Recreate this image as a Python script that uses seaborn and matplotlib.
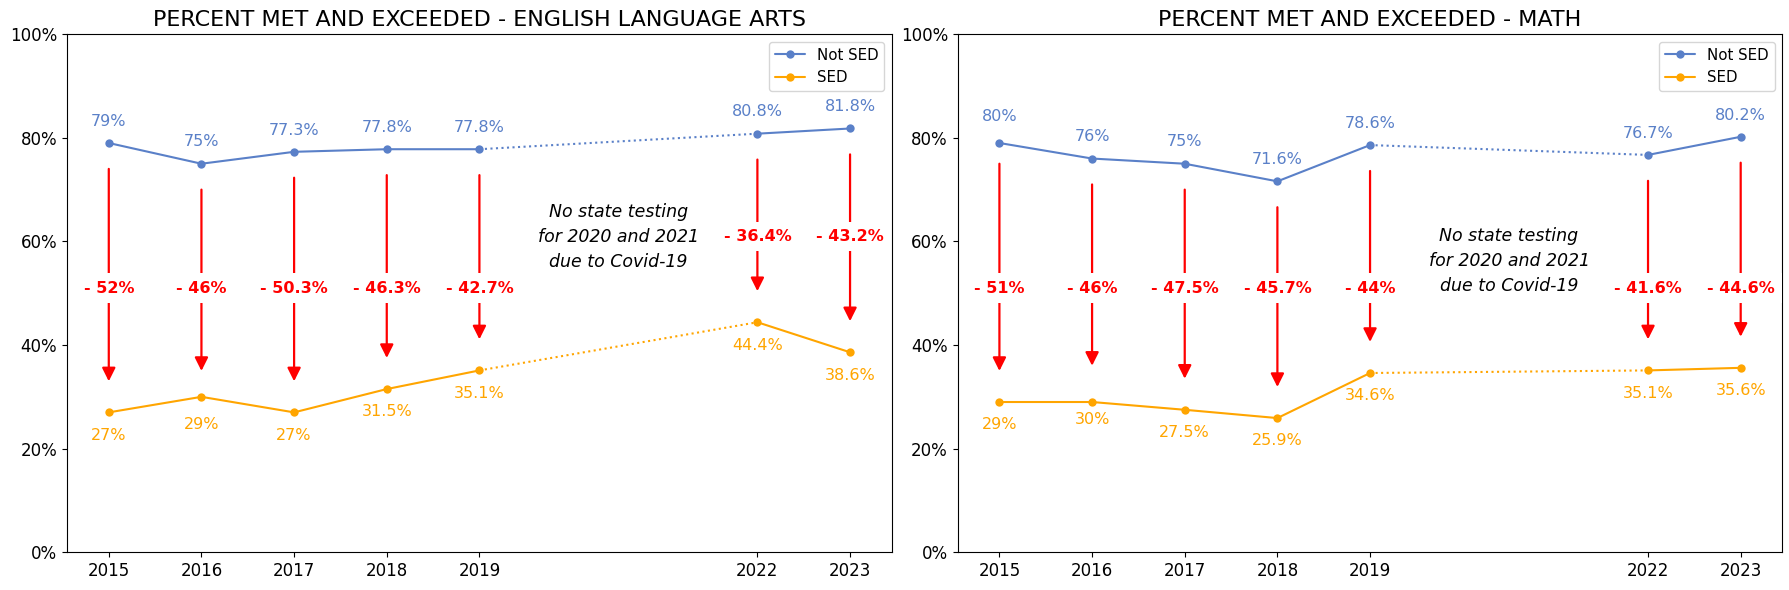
import pandas as pd
import seaborn as sns
import matplotlib.pyplot as plt
from matplotlib.ticker import PercentFormatter

years = [2015, 2016, 2017, 2018, 2019, 2022, 2023]

# ELA
ela_not_sed = [79, 75, 77.3, 77.8, 77.8, 80.8, 81.8]
ela_sed = [27, 30, 27, 31.5, 35.1, 44.4, 38.6]
ela_not_sed_lbl = [79, 75, 77.3, 77.8, 77.8, 80.8, 81.8]
ela_sed_lbl = [27, 29, 27, 31.5, 35.1, 44.4, 38.6]
ela_gap_y = [51, 51, 51, 51, 51, 61, 61]

# Math
math_not_sed = [79, 76, 75, 71.6, 78.6, 76.7, 80.2]
math_sed = [29, 29, 27.5, 25.9, 34.6, 35.1, 35.6]
math_not_sed_lbl = [80, 76, 75, 71.6, 78.6, 76.7, 80.2]
math_sed_lbl = [29, 30, 27.5, 25.9, 34.6, 35.1, 35.6]
math_gap_y = [51, 51, 51, 51, 51, 51, 51]

note = "No state testing\nfor 2020 and 2021\ndue to Covid-19"

blue = '#5a80c8'
orange = 'orange'


def fmt(v):
    return f"{round(v, 1):g}%"


def make_df(not_sed, sed):
    rows = []
    for y, a, b in zip(years, not_sed, sed):
        seg = 'pre' if y <= 2019 else 'post'
        rows.append({'Year': y, 'Value': a, 'Group': 'Not SED', 'seg': seg})
        rows.append({'Year': y, 'Value': b, 'Group': 'SED', 'seg': seg})
    return pd.DataFrame(rows)


def draw(ax, title, not_sed, sed, not_lbl, sed_lbl, gap_y, note_y):
    df = make_df(not_sed, sed)
    pal = {'Not SED': blue, 'SED': orange}
    sns.lineplot(data=df, x='Year', y='Value', hue='Group', units='seg',
                 estimator=None, marker='o', markersize=6, linewidth=1.5,
                 markeredgewidth=0, palette=pal, ax=ax)
    gap = df[df['Year'].isin([2019, 2022])]
    sns.lineplot(data=gap, x='Year', y='Value', hue='Group', palette=pal,
                 linestyle=':', linewidth=1.5, legend=False, ax=ax)

    for y, a, b, gy in zip(years, not_lbl, sed_lbl, gap_y):
        ax.text(y, a + 4.2, fmt(a), color=blue, ha='center', va='center', fontsize=11.5)
        ax.text(y, b - 4.4, fmt(b), color=orange, ha='center', va='center', fontsize=11.5)
        ax.annotate('', xy=(y, b + 6), xytext=(y, a - 5),
                    arrowprops=dict(arrowstyle='-|>', color='red', lw=1.6,
                                    mutation_scale=20, shrinkA=0, shrinkB=0))
        ax.text(y, gy, '- ' + fmt(a - b), color='red', fontweight='bold',
                ha='center', va='center', fontsize=11.5,
                bbox=dict(boxstyle='square,pad=0.45', fc='white', ec='none'))

    ax.text(2020.5, note_y, note, style='italic', ha='center', va='center',
            fontsize=12.5, linespacing=1.5)

    ax.set_title(title, fontsize=16)
    ax.set_xlim(2014.55, 2023.45)
    ax.set_ylim(0, 100)
    ax.set_xticks(years)
    ax.set_yticks(range(0, 101, 20))
    ax.yaxis.set_major_formatter(PercentFormatter(decimals=0))
    ax.tick_params(labelsize=12)
    ax.set_xlabel('')
    ax.set_ylabel('')
    ax.legend(loc='upper right', fontsize=10.8)


sns.set_style('ticks')
plt.rcParams['font.family'] = ['DejaVu Sans']
plt.rcParams['text.color'] = 'black'
plt.rcParams['xtick.color'] = 'black'
plt.rcParams['ytick.color'] = 'black'
plt.rcParams['axes.edgecolor'] = 'black'

fig, axes = plt.subplots(1, 2, figsize=(17.89, 5.9), dpi=100)
draw(axes[0], 'PERCENT MET AND EXCEEDED - ENGLISH LANGUAGE ARTS',
     ela_not_sed, ela_sed, ela_not_sed_lbl, ela_sed_lbl, ela_gap_y, 60.8)
draw(axes[1], 'PERCENT MET AND EXCEEDED - MATH',
     math_not_sed, math_sed, math_not_sed_lbl, math_sed_lbl, math_gap_y, 56.2)
for ax in axes:
    for s in ax.spines.values():
        s.set_visible(True)
        s.set_color('black')
fig.subplots_adjust(left=0.0375, right=0.9963, bottom=0.064, top=0.942, wspace=0.08)
fig.savefig('out.png', dpi=100)
